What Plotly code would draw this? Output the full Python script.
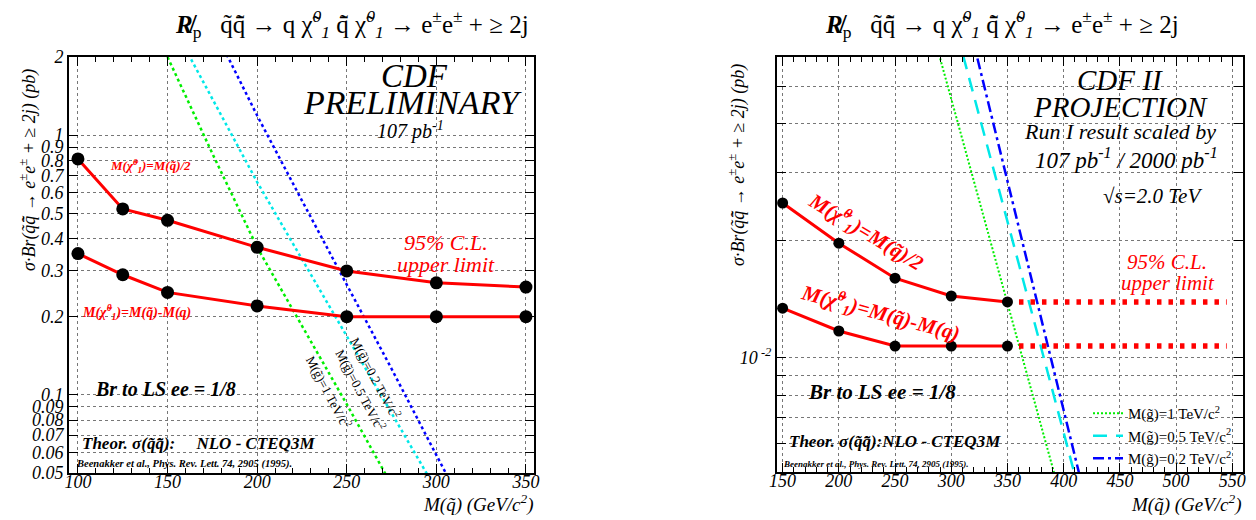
import plotly.graph_objects as go

# ---------------- data ----------------
# Run I 95% C.L. upper limits (pb), left panel
msq_run1 = [100, 125, 150, 200, 250, 300, 350]
limit_half_run1 = [0.81, 0.52, 0.47, 0.37, 0.30, 0.27, 0.26]
limit_diff_run1 = [0.35, 0.29, 0.248, 0.22, 0.20, 0.20, 0.20]

# NLO theory sigma*Br at 1.8 TeV for three gluino masses
th1_m_g1000 = [150, 175, 200, 225, 250, 275]
th1_g1000 = [2.0, 0.85, 0.37, 0.185, 0.092, 0.045]
th1_m_g500 = [160, 180, 200, 225, 250, 275, 300]
th1_g500 = [2.15, 1.19, 0.66, 0.333, 0.168, 0.085, 0.043]
th1_m_g200 = [180, 200, 225, 250, 275, 300, 325]
th1_g200 = [2.25, 1.19, 0.56, 0.266, 0.126, 0.0586, 0.0276]

# Run II projection (pb), right panel
msq_run2 = [150, 200, 250, 300, 350]
limit_half_run2 = [0.0250, 0.0197, 0.0160, 0.0144, 0.0139]
limit_diff_run2 = [0.0134, 0.0117, 0.0107, 0.0107, 0.0107]
flat_ext_x = [350, 545]

# NLO theory at 2.0 TeV
th2_m_g1000 = [275, 300, 325, 350, 375, 400]
th2_g1000 = [0.085, 0.0465, 0.0254, 0.0139, 0.0076, 0.0041]
th2_m_g500 = [300, 325, 350, 375, 400, 425]
th2_g500 = [0.078, 0.042, 0.0224, 0.0120, 0.0064, 0.0034]
th2_m_g200 = [300, 325, 350, 375, 400, 425]
th2_g200 = [0.111, 0.0562, 0.0285, 0.0144, 0.0073, 0.0037]

left_xticks = [100, 150, 200, 250, 300, 350]
right_xticks = [150, 200, 250, 300, 350, 400, 450, 500, 550]
left_yticks = [0.05, 0.06, 0.07, 0.08, 0.09, 0.1, 0.2, 0.3, 0.4, 0.5,
               0.6, 0.7, 0.8, 0.9, 1, 2]
left_yticktext = ["0.05", "0.06", "0.07", "0.08", "0.09", "0.1", "0.2", "0.3",
                  "0.4", "0.5", "0.6", "0.7", "0.8", "0.9", "1", "2"]
right_yticks = [0.006, 0.007, 0.008, 0.009, 0.01, 0.02, 0.03, 0.04, 0.05]
right_yticktext = ["", "", "", "", "10<sup> -2</sup>", "", "", "", ""]

# ---------------- style ----------------
W, H = 1256, 520
SERIF = "Liberation Serif, DejaVu Serif, serif"
RED = "#ff0000"
GREEN = "#00ee00"
CYAN = "#00e8e8"
BLUE = "#0000ff"


def px(x):
    return x / W


def py(y):
    return 1 - y / H


def ital(labels):
    return ["<i>%s</i>" % t if t else "" for t in labels]


fig = go.Figure()

# left panel theory curves
for m, v, c in [(th1_m_g1000, th1_g1000, GREEN), (th1_m_g500, th1_g500, CYAN),
                (th1_m_g200, th1_g200, BLUE)]:
    fig.add_trace(go.Scatter(x=m, y=v, mode="lines", showlegend=False,
                             line=dict(color=c, width=2.5, dash="dot"),
                             xaxis="x", yaxis="y"))

# left panel limits
for v in [limit_half_run1, limit_diff_run1]:
    fig.add_trace(go.Scatter(x=msq_run1, y=v, mode="lines+markers", showlegend=False,
                             line=dict(color=RED, width=3),
                             marker=dict(color="black", size=13),
                             xaxis="x", yaxis="y"))

# right panel theory curves (with legend)
fig.add_trace(go.Scatter(x=th2_m_g1000, y=th2_g1000, mode="lines",
                         name="M(g̃)=1 TeV/c<sup>2</sup>",
                         line=dict(color=GREEN, width=2, dash="2px,2px"),
                         xaxis="x2", yaxis="y2"))
fig.add_trace(go.Scatter(x=th2_m_g500, y=th2_g500, mode="lines",
                         name="M(g̃)=0.5 TeV/c<sup>2</sup>",
                         line=dict(color=CYAN, width=2.5, dash="14px,9px"),
                         xaxis="x2", yaxis="y2"))
fig.add_trace(go.Scatter(x=th2_m_g200, y=th2_g200, mode="lines",
                         name="M(g̃)=0.2 TeV/c<sup>2</sup>",
                         line=dict(color=BLUE, width=2.5, dash="11px,4px,3px,4px"),
                         xaxis="x2", yaxis="y2"))

# right panel projected limits and flat extrapolation
for v in [limit_half_run2, limit_diff_run2]:
    fig.add_trace(go.Scatter(x=flat_ext_x, y=[v[-1], v[-1]], mode="lines",
                             showlegend=False,
                             line=dict(color=RED, width=5.5, dash="4.5px,7px"),
                             xaxis="x2", yaxis="y2"))
    fig.add_trace(go.Scatter(x=msq_run2, y=v, mode="lines+markers", showlegend=False,
                             line=dict(color=RED, width=3),
                             marker=dict(color="black", size=11),
                             xaxis="x2", yaxis="y2"))

tick_font = dict(family=SERIF, size=18, color="black")
axis_common = dict(
    showline=True, linecolor="black", linewidth=2, mirror="ticks",
    ticks="inside", ticklen=9, tickcolor="black", tickwidth=1,
    showgrid=True, gridcolor="#777777", gridwidth=1, griddash="dot",
    zeroline=False, automargin=False,
    tickfont=tick_font,
)
x_common = dict(ticklabelstandoff=-9, **axis_common)

fig.update_layout(
    width=W, height=H,
    margin=dict(l=0, r=0, t=0, b=0, autoexpand=False),
    font=dict(family=SERIF, color="black"),
    paper_bgcolor="white", plot_bgcolor="white",
    xaxis=dict(domain=[px(69), px(534)], range=[95, 354.5], anchor="y",
               tickvals=left_xticks, ticktext=ital([str(t) for t in left_xticks]),
               minor=dict(dtick=10, tick0=100, ticks="inside", ticklen=5,
                          tickcolor="black", showgrid=False),
               **x_common),
    yaxis=dict(domain=[py(473), py(57)], type="log", anchor="x",
               range=[-1.30103, 0.30103], tickvals=left_yticks,
               ticktext=ital(left_yticktext), **axis_common),
    xaxis2=dict(domain=[px(777), px(1243)], range=[145, 559.5], anchor="y2",
                tickvals=right_xticks, ticktext=ital([str(t) for t in right_xticks]),
                minor=dict(dtick=10, tick0=150, ticks="inside", ticklen=5,
                           tickcolor="black", showgrid=False),
                **x_common),
    yaxis2=dict(domain=[py(472), py(57)], type="log", anchor="x2",
                range=[-2.295, -1.226], tickvals=right_yticks,
                ticktext=ital(right_yticktext), **axis_common),
    legend=dict(x=px(1088), y=py(397), xanchor="left", yanchor="top",
                bgcolor="rgba(0,0,0,0)", borderwidth=0, itemwidth=30,
                font=dict(family=SERIF, size=15, color="black"),
                tracegroupgap=0),
    showlegend=True,
)


def note(x, y, text, size, color="black", italic=True, bold=False,
         angle=0, xanchor="center", yanchor="middle"):
    fig.add_annotation(
        x=px(x), y=py(y), xref="paper", yref="paper", text=text,
        showarrow=False, textangle=angle, xanchor=xanchor, yanchor=yanchor,
        font=dict(family=SERIF, size=size, color=color,
                  style="italic" if italic else "normal",
                  weight="bold" if bold else "normal"))


title = ("<b><i>R̸</i></b><sub>p</sub>   q̃q̄̃ → q χ̃<sup><i>0</i></sup><sub><i>1</i></sub> "
         "q̄̃ χ̃<sup><i>0</i></sup><sub><i>1</i></sub> → e<sup>±</sup>e<sup>±</sup> + ≥ 2j")
ytitle = "σ·Br(q̃q̄̃ → e<sup>±</sup>e<sup>±</sup> + ≥ 2j) (pb)"
xtitle = "M(q̃) (GeV/c<sup>2</sup>)"
chi_half = "M(χ̃<sup>0</sup><sub>1</sub>)=M(q̃)/2"
chi_diff = "M(χ̃<sup>0</sup><sub>1</sub>)=M(q̃)-M(q)"

# ---- left panel text ----
note(352, 24, title, 25, italic=False)
note(28, 170, ytitle, 18, angle=-90)
note(536, 503, xtitle, 19, xanchor="right")
note(414, 76, "CDF", 33)
note(412, 103, "PRELIMINARY", 34)
note(410, 130, "107 pb<sup>-1</sup>", 20)
note(150, 166, chi_half, 13, color=RED, bold=True)
note(446, 242, "95% C.L.", 22, color=RED)
note(446, 264, "upper limit", 22, color=RED)
note(136, 312, chi_diff, 14, color=RED, bold=True)
note(165, 389, "Br to LS ee = 1/8", 20, bold=True)
note(80, 443, "Theor. σ(q̃q̄̃):     NLO - CTEQ3M", 17, bold=True, xanchor="left")
note(74, 464, "Beenakker et al., Phys. Rev. Lett. 74, 2905 (1995).", 10.5,
     bold=True, xanchor="left")
note(329, 392, "M(g̃)=1 TeV/c<sup>2</sup>", 13, italic=False, angle=62)
note(361, 390, "M(g̃)=0.5 TeV/c<sup>2</sup>", 13, italic=False, angle=62)
note(376, 378, "M(g̃)=0.2 TeV/c<sup>2</sup>", 13, italic=False, angle=62)

# ---- right panel text ----
note(1002, 24, title, 25, italic=False)
note(737, 165, ytitle, 18, angle=-90)
note(1244, 503, xtitle, 19, xanchor="right")
note(1120, 80, "CDF II", 29)
note(1120, 107, "PROJECTION", 29)
note(1120, 131, "Run I result scaled by", 22)
note(1126, 158, "107 pb<sup>-1</sup> / 2000 pb<sup>-1</sup>", 23)
note(1152, 196, "√s=2.0 TeV", 21)
note(1167, 262, "95% C.L.", 21, color=RED)
note(1168, 283, "upper limit", 21, color=RED)
note(866, 232, chi_half, 21, color=RED, bold=True, angle=31)
note(880, 312, chi_diff, 21, color=RED, bold=True, angle=15)
note(882, 392, "Br to LS ee = 1/8", 21, bold=True)
note(787, 441, "Theor. σ(q̃q̄̃):NLO - CTEQ3M", 17, bold=True, xanchor="left")
note(781, 464, "Beenakker et al., Phys. Rev. Lett. 74, 2905 (1995).", 9,
     bold=True, xanchor="left")

fig.write_html("out.html")
